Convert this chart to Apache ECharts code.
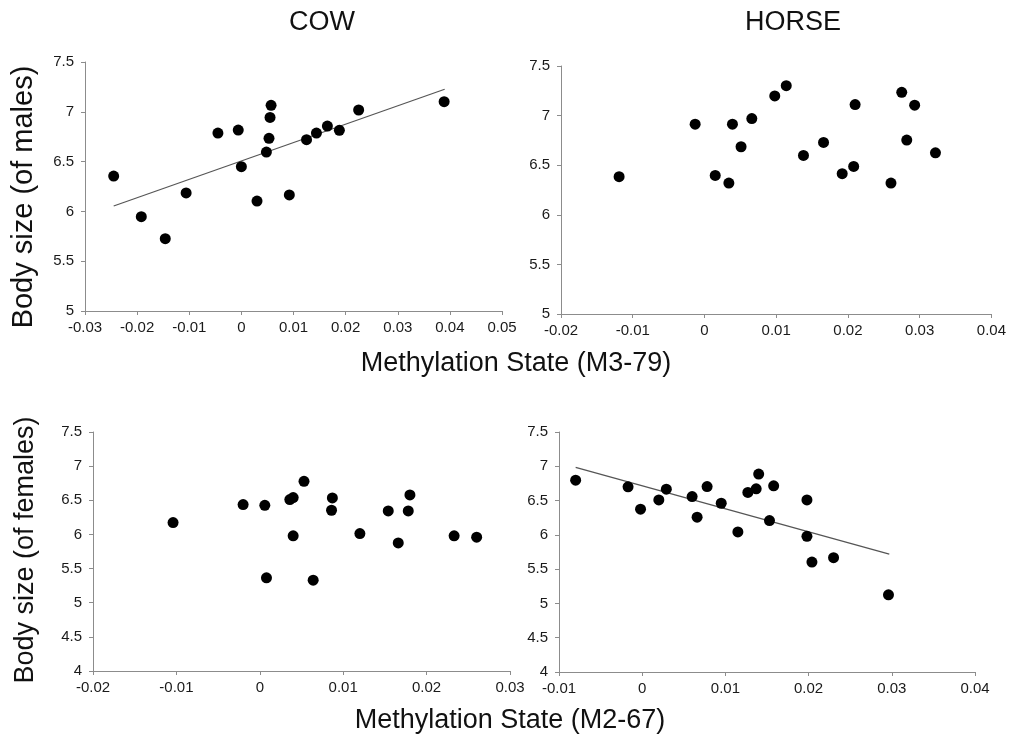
<!DOCTYPE html>
<html>
<head>
<meta charset="utf-8">
<script src="https://cdn.jsdelivr.net/npm/echarts@6/dist/echarts.min.js"></script>
<style>
html,body{margin:0;padding:0;background:#fff;}
#chart{width:1009px;height:745px;}
</style>
</head>
<body>
<div id="chart"></div>
<script>
// ---- Data ----
const panelTitles = ['COW', 'HORSE'];
const xTitles = ['Methylation State (M3-79)', 'Methylation State (M2-67)'];
const yTitles = ['Body size (of males)', 'Body size (of females)'];

const cowMaleX = [-0.0245,-0.0192,-0.0146,-0.0106,-0.0045,-0.0006,0.0000,0.0030,0.0048,0.0053,0.0055,0.0057,0.0092,0.0125,0.0144,0.0165,0.0188,0.0225,0.0389];
const cowMaleY = [6.355,5.947,5.726,6.185,6.787,6.817,6.449,6.104,6.596,6.734,6.944,7.065,6.165,6.720,6.787,6.857,6.814,7.018,7.102];
const cowMaleTrend = [[-0.0245, 6.054], [0.039, 7.226]];

const horseMaleX = [-0.0119,-0.0013,0.0015,0.0034,0.0039,0.0051,0.0066,0.0098,0.0114,0.0138,0.0166,0.0192,0.0208,0.0210,0.0260,0.0275,0.0282,0.0293,0.0322];
const horseMaleY = [6.384,6.914,6.397,6.320,6.914,6.686,6.970,7.198,7.302,6.599,6.729,6.414,6.488,7.111,6.320,7.235,6.753,7.105,6.625];

const cowFemaleX = [-0.0104,-0.0020,0.0006,0.0036,0.0040,0.0040,0.0008,0.0053,0.0064,0.0087,0.0086,0.0120,0.0154,0.0166,0.0178,0.0180,0.0233,0.0260];
const cowFemaleY = [6.174,6.437,6.427,6.510,6.540,5.979,5.364,6.778,5.330,6.535,6.354,6.013,6.344,5.876,6.344,6.578,5.979,5.959];

const horseFemaleX = [-0.0080,-0.0017,-0.0002,0.0020,0.0029,0.0060,0.0066,0.0078,0.0095,0.0115,0.0127,0.0137,0.0140,0.0153,0.0158,0.0198,0.0198,0.0204,0.0230,0.0296];
const horseFemaleY = [6.798,6.700,6.374,6.510,6.666,6.559,6.257,6.705,6.461,6.042,6.618,6.671,6.886,6.208,6.715,6.510,5.979,5.603,5.667,5.126];
const horseFemaleTrend = [[-0.008, 6.983], [0.0297, 5.720]];

const xRanges = [[-0.03, 0.05], [-0.02, 0.04], [-0.02, 0.03], [-0.01, 0.04]];
const yRanges = [[5, 7.5], [5, 7.5], [4, 7.5], [4, 7.5]];

// ---- Build ----
const FONT = 'Liberation Sans, Arial, Helvetica, sans-serif';
const zip = (xs, ys) => xs.map((x, i) => [x, ys[i]]);

const grids = [
  {left: 85, top: 62, width: 417, height: 249},
  {left: 561, top: 66, width: 432, height: 248},
  {left: 93, top: 432, width: 417, height: 239},
  {left: 559, top: 432, width: 416, height: 240}
];

const axisLine = {show: true, lineStyle: {color: '#8c8c8c', width: 1}};
const axisTick = {show: true, inside: false, length: 4, lineStyle: {color: '#8c8c8c'}};

const xAxes = grids.map((g, i) => ({
  type: 'value', gridIndex: i, min: xRanges[i][0], max: xRanges[i][1], interval: 0.01,
  axisLine: Object.assign({onZero: false}, axisLine), axisTick, splitLine: {show: false},
  axisLabel: {fontFamily: FONT, fontSize: 15, color: '#1a1a1a', margin: 9,
    formatter: v => String(Math.round(v * 100) / 100)}
}));
const yAxes = grids.map((g, i) => ({
  type: 'value', gridIndex: i, min: yRanges[i][0], max: yRanges[i][1], interval: 0.5,
  axisLine: Object.assign({onZero: false}, axisLine), axisTick, splitLine: {show: false},
  axisLabel: {fontFamily: FONT, fontSize: 15, color: '#1a1a1a', margin: 11,
    formatter: v => String(Math.round(v * 10) / 10)}
}));

const scatterData = [
  zip(cowMaleX, cowMaleY), zip(horseMaleX, horseMaleY),
  zip(cowFemaleX, cowFemaleY), zip(horseFemaleX, horseFemaleY)
];

const series = scatterData.map((d, i) => ({
  type: 'scatter', xAxisIndex: i, yAxisIndex: i, data: d,
  symbolSize: 11, itemStyle: {color: '#000', opacity: 1}, z: 3
}));
series.push({type: 'line', xAxisIndex: 0, yAxisIndex: 0, data: cowMaleTrend,
  symbol: 'none', lineStyle: {color: '#555', width: 1.2}, z: 2});
series.push({type: 'line', xAxisIndex: 3, yAxisIndex: 3, data: horseFemaleTrend,
  symbol: 'none', lineStyle: {color: '#555', width: 1.2}, z: 2});

const txt = (text, x, y, size, rot) => ({
  type: 'text', x: x, y: y, rotation: rot || 0,
  style: {text: text, font: size + 'px ' + FONT, fill: '#111', align: 'center', verticalAlign: 'middle'}
});

const option = {
  backgroundColor: '#fff',
  animation: false,
  grid: grids,
  xAxis: xAxes,
  yAxis: yAxes,
  series: series,
  graphic: [
    txt(panelTitles[0], 322, 23, 27),
    txt(panelTitles[1], 793, 23, 27),
    txt(xTitles[0], 516, 364, 27),
    txt(xTitles[1], 510, 721, 27),
    txt(yTitles[0], 24, 197, 29, Math.PI / 2),
    txt(yTitles[1], 26, 550, 27, Math.PI / 2)
  ]
};

const chart = echarts.init(document.getElementById('chart'), null, {renderer: 'canvas'});
chart.setOption(option);
</script>
</body>
</html>
